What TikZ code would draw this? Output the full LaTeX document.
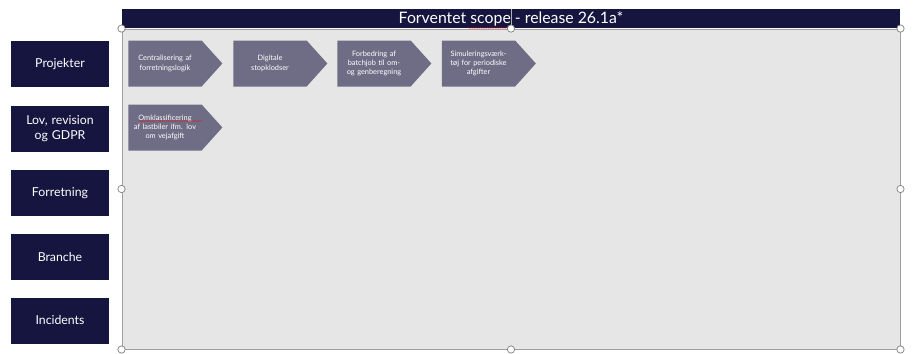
\documentclass[tikz,border=0pt]{standalone}
\usepackage{fontspec}
\setmainfont{Lato}
\usetikzlibrary{shapes.symbols, decorations.pathmorphing}

\definecolor{navy}{RGB}{22,21,64}
\definecolor{slate}{RGB}{110,109,133}
\definecolor{scopegray}{RGB}{230,230,230}
\definecolor{framegray}{RGB}{160,160,160}

\tikzset{
	team/.style={rectangle, fill=navy, text=white, minimum width=2.94cm, minimum height=1.38cm,
		text width=2.6cm, align=center, font=\fontsize{10.5}{12.5}\selectfont},
	item/.style={signal, signal to=east, signal pointer angle=96, fill=slate, text=white,
		minimum width=2.82cm, minimum height=1.38cm, inner sep=1pt, text width=2.1cm,
		align=center, font=\fontsize{6.3}{8}\selectfont},
	handle/.style={circle, draw=gray, fill=white, line width=0.6pt, inner sep=0pt, minimum size=0.22cm},
	squiggle/.style={red, line width=0.4pt, decorate, decoration={snake, amplitude=0.2pt, segment length=2pt}}
}

\begin{document}
\begin{tikzpicture}[x=0.03cm, y=-0.03cm]
	\useasboundingbox (0, 0) rectangle (915, 353);
	% the scope area and its title bar
	\node (scope) at (511, 189)	[rectangle, draw=framegray, fill=scopegray, line width=0.8pt,
		minimum width=23.34cm, minimum height=9.6cm] {};
	\node (title) at (scope.north) [rectangle, fill=navy, anchor=south, minimum width=23.34cm,
		minimum height=0.57cm, text=white, font=\fontsize{13.5}{15}\selectfont, inner sep=0pt] {Forventet scope - release 26.1a*};
	\draw[squiggle] (468, 28) -- (508, 28);
	% teams on the left
	\node (proj) at (60, 64)		[team] {Projekter};
	\node (lov) at (60, 128.5)		[team] {Lov, revision\\og GDPR};
	\node (forr) at (60, 193)		[team] {Forretning};
	\node (bra) at (60, 257)		[team] {Branche};
	\node (inc) at (60, 320.5)		[team] {Incidents};
	% items in scope
	\node (centr) at (165, 63.5)	[item] {Centralisering af\\forretningslogik};
	\node (stop) at (270, 63.5)		[item] {Digitale\\stopklodser};
	\node (batch) at (374, 63.5)	[item] {Forbedring af\\batchjob til om-\\og genberegning};
	\node (sim) at (478.5, 63.5)	[item] {Simuleringsværk-\\tøj for periodiske\\afgifter};
	\node (omkl) at (165, 127.5)	[item] {Omklassificering\\af lastbiler ifm. lov\\om vejafgift};
	\draw[squiggle] (139, 121) -- (202, 121);
	% selection handles
	\draw[gray!60, line width=0.5pt] (title.north) -- (title.south);
	\foreach \a in {north west, north, north east, west, east, south west, south, south east}
		\node at (scope.\a) [handle] {};
\end{tikzpicture}
\end{document}
